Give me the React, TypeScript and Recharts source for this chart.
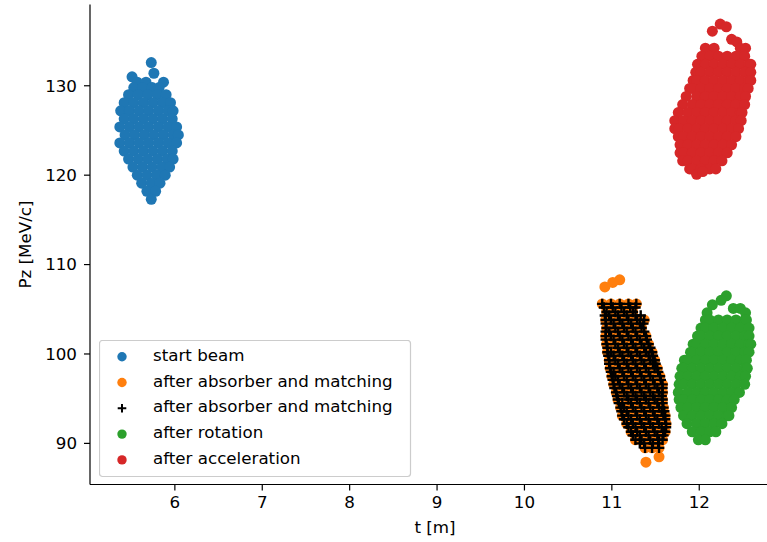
import { ScatterChart, Scatter, XAxis, YAxis, Legend } from 'recharts';

// each row: [Pz, t values read along that row]
const startBeamRows: [number, number[]][] = [
  [132.6, [5.73]],
  [131.4, [5.76]],
  [131.0, [5.51]],
  [130.4, [5.57, 5.67, 5.87]],
  [129.8, [5.53, 5.63, 5.74, 5.82]],
  [129.0, [5.47, 5.58, 5.69, 5.80, 5.90]],
  [128.1, [5.42, 5.53, 5.64, 5.75, 5.86, 5.95]],
  [127.2, [5.38, 5.48, 5.59, 5.70, 5.81, 5.92, 5.98]],
  [126.3, [5.42, 5.53, 5.64, 5.75, 5.86, 5.97]],
  [125.4, [5.37, 5.48, 5.59, 5.70, 5.81, 5.92, 6.02]],
  [124.5, [5.43, 5.54, 5.65, 5.76, 5.87, 5.98, 6.04]],
  [123.6, [5.37, 5.48, 5.59, 5.70, 5.81, 5.92, 6.02]],
  [122.7, [5.42, 5.53, 5.64, 5.75, 5.86, 5.97]],
  [121.8, [5.47, 5.58, 5.69, 5.80, 5.91, 5.98]],
  [120.9, [5.52, 5.63, 5.74, 5.85, 5.94]],
  [120.0, [5.57, 5.68, 5.79, 5.89]],
  [119.1, [5.62, 5.73, 5.83]],
  [118.2, [5.68, 5.78]],
  [117.3, [5.73]],
];

const absorberRows: [number, number[]][] = [
  [108.3, [11.09]],
  [108.0, [11.01]],
  [107.5, [10.92]],
  [105.6, [10.89, 10.99, 11.09, 11.19, 11.28]],
  [104.7, [10.94, 11.04, 11.14, 11.24]],
  [103.8, [10.93, 10.99, 11.09, 11.19, 11.29, 11.37]],
  [102.9, [10.94, 11.04, 11.14, 11.24, 11.34]],
  [102.0, [10.93, 10.99, 11.09, 11.19, 11.29, 11.39]],
  [101.1, [10.94, 11.04, 11.14, 11.24, 11.34, 11.42]],
  [100.2, [10.95, 10.99, 11.09, 11.19, 11.29, 11.39, 11.46]],
  [99.3, [10.97, 11.04, 11.14, 11.24, 11.34, 11.44, 11.49]],
  [98.4, [10.98, 11.09, 11.19, 11.29, 11.39, 11.49, 11.52]],
  [97.5, [11.0, 11.04, 11.14, 11.24, 11.34, 11.44, 11.55]],
  [96.6, [11.02, 11.09, 11.19, 11.29, 11.39, 11.49, 11.58]],
  [95.7, [11.05, 11.14, 11.24, 11.34, 11.44, 11.54, 11.58]],
  [94.9, [11.07, 11.19, 11.29, 11.39, 11.49, 11.58]],
  [94.0, [11.1, 11.14, 11.24, 11.34, 11.44, 11.54, 11.59]],
  [93.1, [11.12, 11.19, 11.29, 11.39, 11.49, 11.59, 11.61]],
  [92.2, [11.17, 11.24, 11.34, 11.44, 11.54, 11.62]],
  [91.3, [11.22, 11.29, 11.39, 11.49, 11.59, 11.61]],
  [90.4, [11.27, 11.34, 11.44, 11.54, 11.58]],
  [89.5, [11.38, 11.46, 11.54]],
  [88.5, [11.54]],
  [87.9, [11.39]],
];

const absorberPlusRows: [number, number[]][] = [
  [105.6, [10.89, 10.99, 11.09, 11.19, 11.28]],
  [105.2, [10.91, 11.01, 11.11, 11.21, 11.27]],
  [104.7, [10.94, 11.04, 11.14, 11.24]],
  [104.3, [10.92, 10.97, 11.07, 11.17, 11.27, 11.33]],
  [103.8, [10.93, 10.99, 11.09, 11.19, 11.29, 11.37]],
  [103.4, [10.93, 11.02, 11.12, 11.22, 11.32, 11.36]],
  [102.9, [10.94, 11.04, 11.14, 11.24, 11.34]],
  [102.5, [10.93, 10.97, 11.07, 11.17, 11.27, 11.37]],
  [102.0, [10.93, 10.99, 11.09, 11.19, 11.29, 11.39]],
  [101.6, [10.93, 11.02, 11.12, 11.22, 11.32, 11.4]],
  [101.1, [10.94, 11.04, 11.14, 11.24, 11.34, 11.42]],
  [100.7, [10.95, 11.07, 11.17, 11.27, 11.37, 11.44]],
  [100.2, [10.95, 10.99, 11.09, 11.19, 11.29, 11.39, 11.46]],
  [99.8, [10.96, 11.02, 11.12, 11.22, 11.32, 11.42, 11.47]],
  [99.3, [10.97, 11.04, 11.14, 11.24, 11.34, 11.44, 11.49]],
  [98.9, [10.97, 11.07, 11.17, 11.27, 11.37, 11.47, 11.5]],
  [98.4, [10.98, 11.09, 11.19, 11.29, 11.39, 11.49, 11.52]],
  [98.0, [10.99, 11.02, 11.12, 11.22, 11.32, 11.42, 11.53]],
  [97.5, [11.0, 11.04, 11.14, 11.24, 11.34, 11.44, 11.55]],
  [97.1, [11.01, 11.07, 11.17, 11.27, 11.37, 11.47, 11.56]],
  [96.6, [11.02, 11.09, 11.19, 11.29, 11.39, 11.49, 11.58]],
  [96.2, [11.03, 11.12, 11.22, 11.32, 11.42, 11.52, 11.58]],
  [95.7, [11.05, 11.14, 11.24, 11.34, 11.44, 11.54, 11.58]],
  [95.3, [11.06, 11.17, 11.27, 11.37, 11.47, 11.57]],
  [94.9, [11.07, 11.19, 11.29, 11.39, 11.49, 11.58]],
  [94.5, [11.08, 11.12, 11.22, 11.32, 11.42, 11.52, 11.58]],
  [94.0, [11.1, 11.14, 11.24, 11.34, 11.44, 11.54, 11.59]],
  [93.6, [11.11, 11.17, 11.27, 11.37, 11.47, 11.57, 11.6]],
  [93.1, [11.12, 11.19, 11.29, 11.39, 11.49, 11.59, 11.61]],
  [92.7, [11.14, 11.22, 11.32, 11.42, 11.52, 11.61]],
  [92.2, [11.17, 11.24, 11.34, 11.44, 11.54, 11.62]],
  [91.8, [11.19, 11.27, 11.37, 11.47, 11.57, 11.62]],
  [91.3, [11.22, 11.29, 11.39, 11.49, 11.59, 11.61]],
  [90.9, [11.24, 11.32, 11.42, 11.52, 11.59]],
  [90.4, [11.27, 11.34, 11.44, 11.54, 11.58]],
  [90.0, [11.32, 11.37, 11.47, 11.53]],
  [89.5, [11.38, 11.46, 11.54]],
];

const rotationRows: [number, number[]][] = [
  [106.5, [12.31]],
  [106.0, [12.25]],
  [105.5, [12.15]],
  [105.1, [12.39, 12.47]],
  [104.6, [12.09, 12.53]],
  [103.8, [12.07, 12.12, 12.22, 12.32, 12.42, 12.52, 12.54]],
  [102.9, [12.02, 12.07, 12.17, 12.27, 12.37, 12.47, 12.57]],
  [102.0, [11.98, 12.02, 12.12, 12.22, 12.32, 12.42, 12.52, 12.57]],
  [101.1, [11.93, 11.97, 12.07, 12.17, 12.27, 12.37, 12.47, 12.57, 12.59]],
  [100.2, [11.9, 11.92, 12.02, 12.12, 12.22, 12.32, 12.42, 12.52, 12.57]],
  [99.3, [11.83, 11.87, 11.97, 12.07, 12.17, 12.27, 12.37, 12.47, 12.54]],
  [98.4, [11.8, 11.82, 11.92, 12.02, 12.12, 12.22, 12.32, 12.42, 12.52, 12.55]],
  [97.5, [11.78, 11.87, 11.97, 12.07, 12.17, 12.27, 12.37, 12.47, 12.53]],
  [96.6, [11.77, 11.82, 11.92, 12.02, 12.12, 12.22, 12.32, 12.42, 12.52]],
  [95.7, [11.76, 11.87, 11.97, 12.07, 12.17, 12.27, 12.37, 12.46]],
  [94.9, [11.77, 11.82, 11.92, 12.02, 12.12, 12.22, 12.32, 12.4]],
  [94.0, [11.79, 11.87, 11.97, 12.07, 12.17, 12.27, 12.37]],
  [93.1, [11.82, 11.92, 12.02, 12.12, 12.22, 12.32, 12.34]],
  [92.2, [11.86, 11.97, 12.07, 12.17, 12.26]],
  [91.3, [11.92, 12.02, 12.12, 12.19]],
  [90.4, [11.99, 12.07]],
];

const accelerationRows: [number, number[]][] = [
  [136.9, [12.24]],
  [136.6, [12.31]],
  [136.1, [12.15]],
  [135.2, [12.37]],
  [134.9, [12.43]],
  [134.2, [12.07, 12.17, 12.47, 12.53]],
  [133.3, [12.03, 12.12, 12.22, 12.32, 12.42, 12.52]],
  [132.4, [11.98, 12.07, 12.17, 12.27, 12.37, 12.47, 12.57, 12.59]],
  [131.5, [11.96, 12.02, 12.12, 12.22, 12.32, 12.42, 12.52, 12.59]],
  [130.6, [11.93, 11.97, 12.07, 12.17, 12.27, 12.37, 12.47, 12.57, 12.59]],
  [129.7, [11.89, 11.92, 12.02, 12.12, 12.22, 12.32, 12.42, 12.52, 12.56]],
  [128.8, [11.85, 11.97, 12.07, 12.17, 12.27, 12.37, 12.47, 12.53]],
  [127.9, [11.81, 11.92, 12.02, 12.12, 12.22, 12.32, 12.42, 12.52]],
  [127.0, [11.76, 11.87, 11.97, 12.07, 12.17, 12.27, 12.37, 12.47, 12.49]],
  [126.1, [11.72, 11.82, 11.92, 12.02, 12.12, 12.22, 12.32, 12.42, 12.48]],
  [125.2, [11.72, 11.77, 11.87, 11.97, 12.07, 12.17, 12.27, 12.37, 12.45]],
  [124.3, [11.76, 11.82, 11.92, 12.02, 12.12, 12.22, 12.32, 12.42]],
  [123.4, [11.78, 11.87, 11.97, 12.07, 12.17, 12.27, 12.37]],
  [122.5, [11.78, 11.82, 11.92, 12.02, 12.12, 12.22, 12.32]],
  [121.6, [11.81, 11.87, 11.97, 12.07, 12.17, 12.26]],
  [120.7, [11.89, 11.92, 12.02, 12.12, 12.19]],
  [120.1, [11.97]],
  [120.4, [12.04]],
];

const xTicks = [6, 7, 8, 9, 10, 11, 12];
const yTicks = [90, 100, 110, 120, 130];
const xDomain: [number, number] = [5.029, 12.924];
const yDomain: [number, number] = [85.4, 139.09];

const toPoints = (rows: [number, number[]][]) =>
  rows.flatMap(([pz, ts]) => ts.map((t) => ({ t, pz })));

const series = [
  { name: 'start beam', color: '#1f77b4', marker: 'circle', data: toPoints(startBeamRows) },
  { name: 'after absorber and matching', color: '#ff7f0e', marker: 'circle', data: toPoints(absorberRows) },
  { name: 'after absorber and matching', color: '#000000', marker: 'plus', data: toPoints(absorberPlusRows) },
  { name: 'after rotation', color: '#2ca02c', marker: 'circle', data: toPoints(rotationRows) },
  { name: 'after acceleration', color: '#d62728', marker: 'circle', data: toPoints(accelerationRows) },
];

const FONT = 16.7;

const makeShape = (color: string, marker: string) => (props: any) => {
  const { cx, cy } = props;
  if (cx == null || cy == null) return <g />;
  if (marker === 'plus') {
    return (
      <path
        d={`M${cx - 5.2},${cy}H${cx + 5.2}M${cx},${cy - 5.2}V${cy + 5.2}`}
        stroke={color}
        strokeWidth={2.4}
        fill="none"
      />
    );
  }
  return <circle cx={cx} cy={cy} r={5.5} fill={color} />;
};

const LegendBox = () => (
  <svg width={313} height={138} style={{ display: 'block' }}>
    <rect x={0.5} y={0.5} width={311} height={136} rx={3} ry={3} fill="#fff" fillOpacity={0.8} stroke="#cccccc" strokeWidth={1.2} />
    {series.map((s, i) => {
      const cy = 16.7 + i * 25.8;
      return (
        <g key={i}>
          {s.marker === 'plus' ? (
            <path d={`M${23 - 4.3},${cy}H${23 + 4.3}M23,${cy - 4.3}V${cy + 4.3}`} stroke={s.color} strokeWidth={2} />
          ) : (
            <circle cx={23} cy={cy} r={4.7} fill={s.color} />
          )}
          <text x={54} y={20.7 + i * 25.8} fontSize={FONT} fill="#000">
            {s.name}
          </text>
        </g>
      );
    })}
  </svg>
);

export default function App() {
  return (
    <div
      style={{
        position: 'absolute',
        left: 0,
        top: 0,
        width: 767,
        height: 542,
        overflow: 'hidden',
        background: '#fff',
        fontFamily: '"DejaVu Sans", sans-serif',
      }}
    >
      <ScatterChart width={790} height={542} margin={{ top: 4.5, right: 10, bottom: 0, left: 0 }}>
        <XAxis
          type="number"
          dataKey="t"
          domain={xDomain}
          allowDataOverflow
          ticks={xTicks}
          height={57.5}
          tickSize={6}
          tickMargin={6}
          axisLine={{ stroke: '#000', strokeWidth: 1.2 }}
          tickLine={{ stroke: '#000', strokeWidth: 1.2 }}
          tick={{ fill: '#000', fontSize: FONT }}
          label={{ value: 't [m]', position: 'insideBottom', offset: 9, fill: '#000', fontSize: FONT }}
        />
        <XAxis
          xAxisId="top"
          orientation="top"
          type="number"
          domain={xDomain}
          allowDataOverflow
          height={0}
          tick={false}
          tickLine={false}
          axisLine={{ stroke: '#000', strokeWidth: 1.2 }}
        />
        <YAxis
          type="number"
          dataKey="pz"
          domain={yDomain}
          allowDataOverflow
          ticks={yTicks}
          width={90}
          tickSize={6}
          tickMargin={7}
          axisLine={{ stroke: '#000', strokeWidth: 1.2 }}
          tickLine={{ stroke: '#000', strokeWidth: 1.2 }}
          tick={{ fill: '#000', fontSize: FONT }}
          label={{
            value: 'Pz [MeV/c]',
            angle: -90,
            position: 'insideLeft',
            offset: 25,
            textAnchor: 'middle',
            fill: '#000',
            fontSize: FONT,
          }}
        />
        {series.map((s, i) => (
          <Scatter
            key={i}
            name={s.name}
            data={s.data}
            fill={s.color}
            shape={makeShape(s.color, s.marker)}
            isAnimationActive={false}
          />
        ))}
        <Legend
          layout="horizontal"
          verticalAlign="middle"
          align="center"
          wrapperStyle={{ left: 99, top: 340, width: 313, height: 138 }}
          content={() => <LegendBox />}
        />
      </ScatterChart>
    </div>
  );
}
